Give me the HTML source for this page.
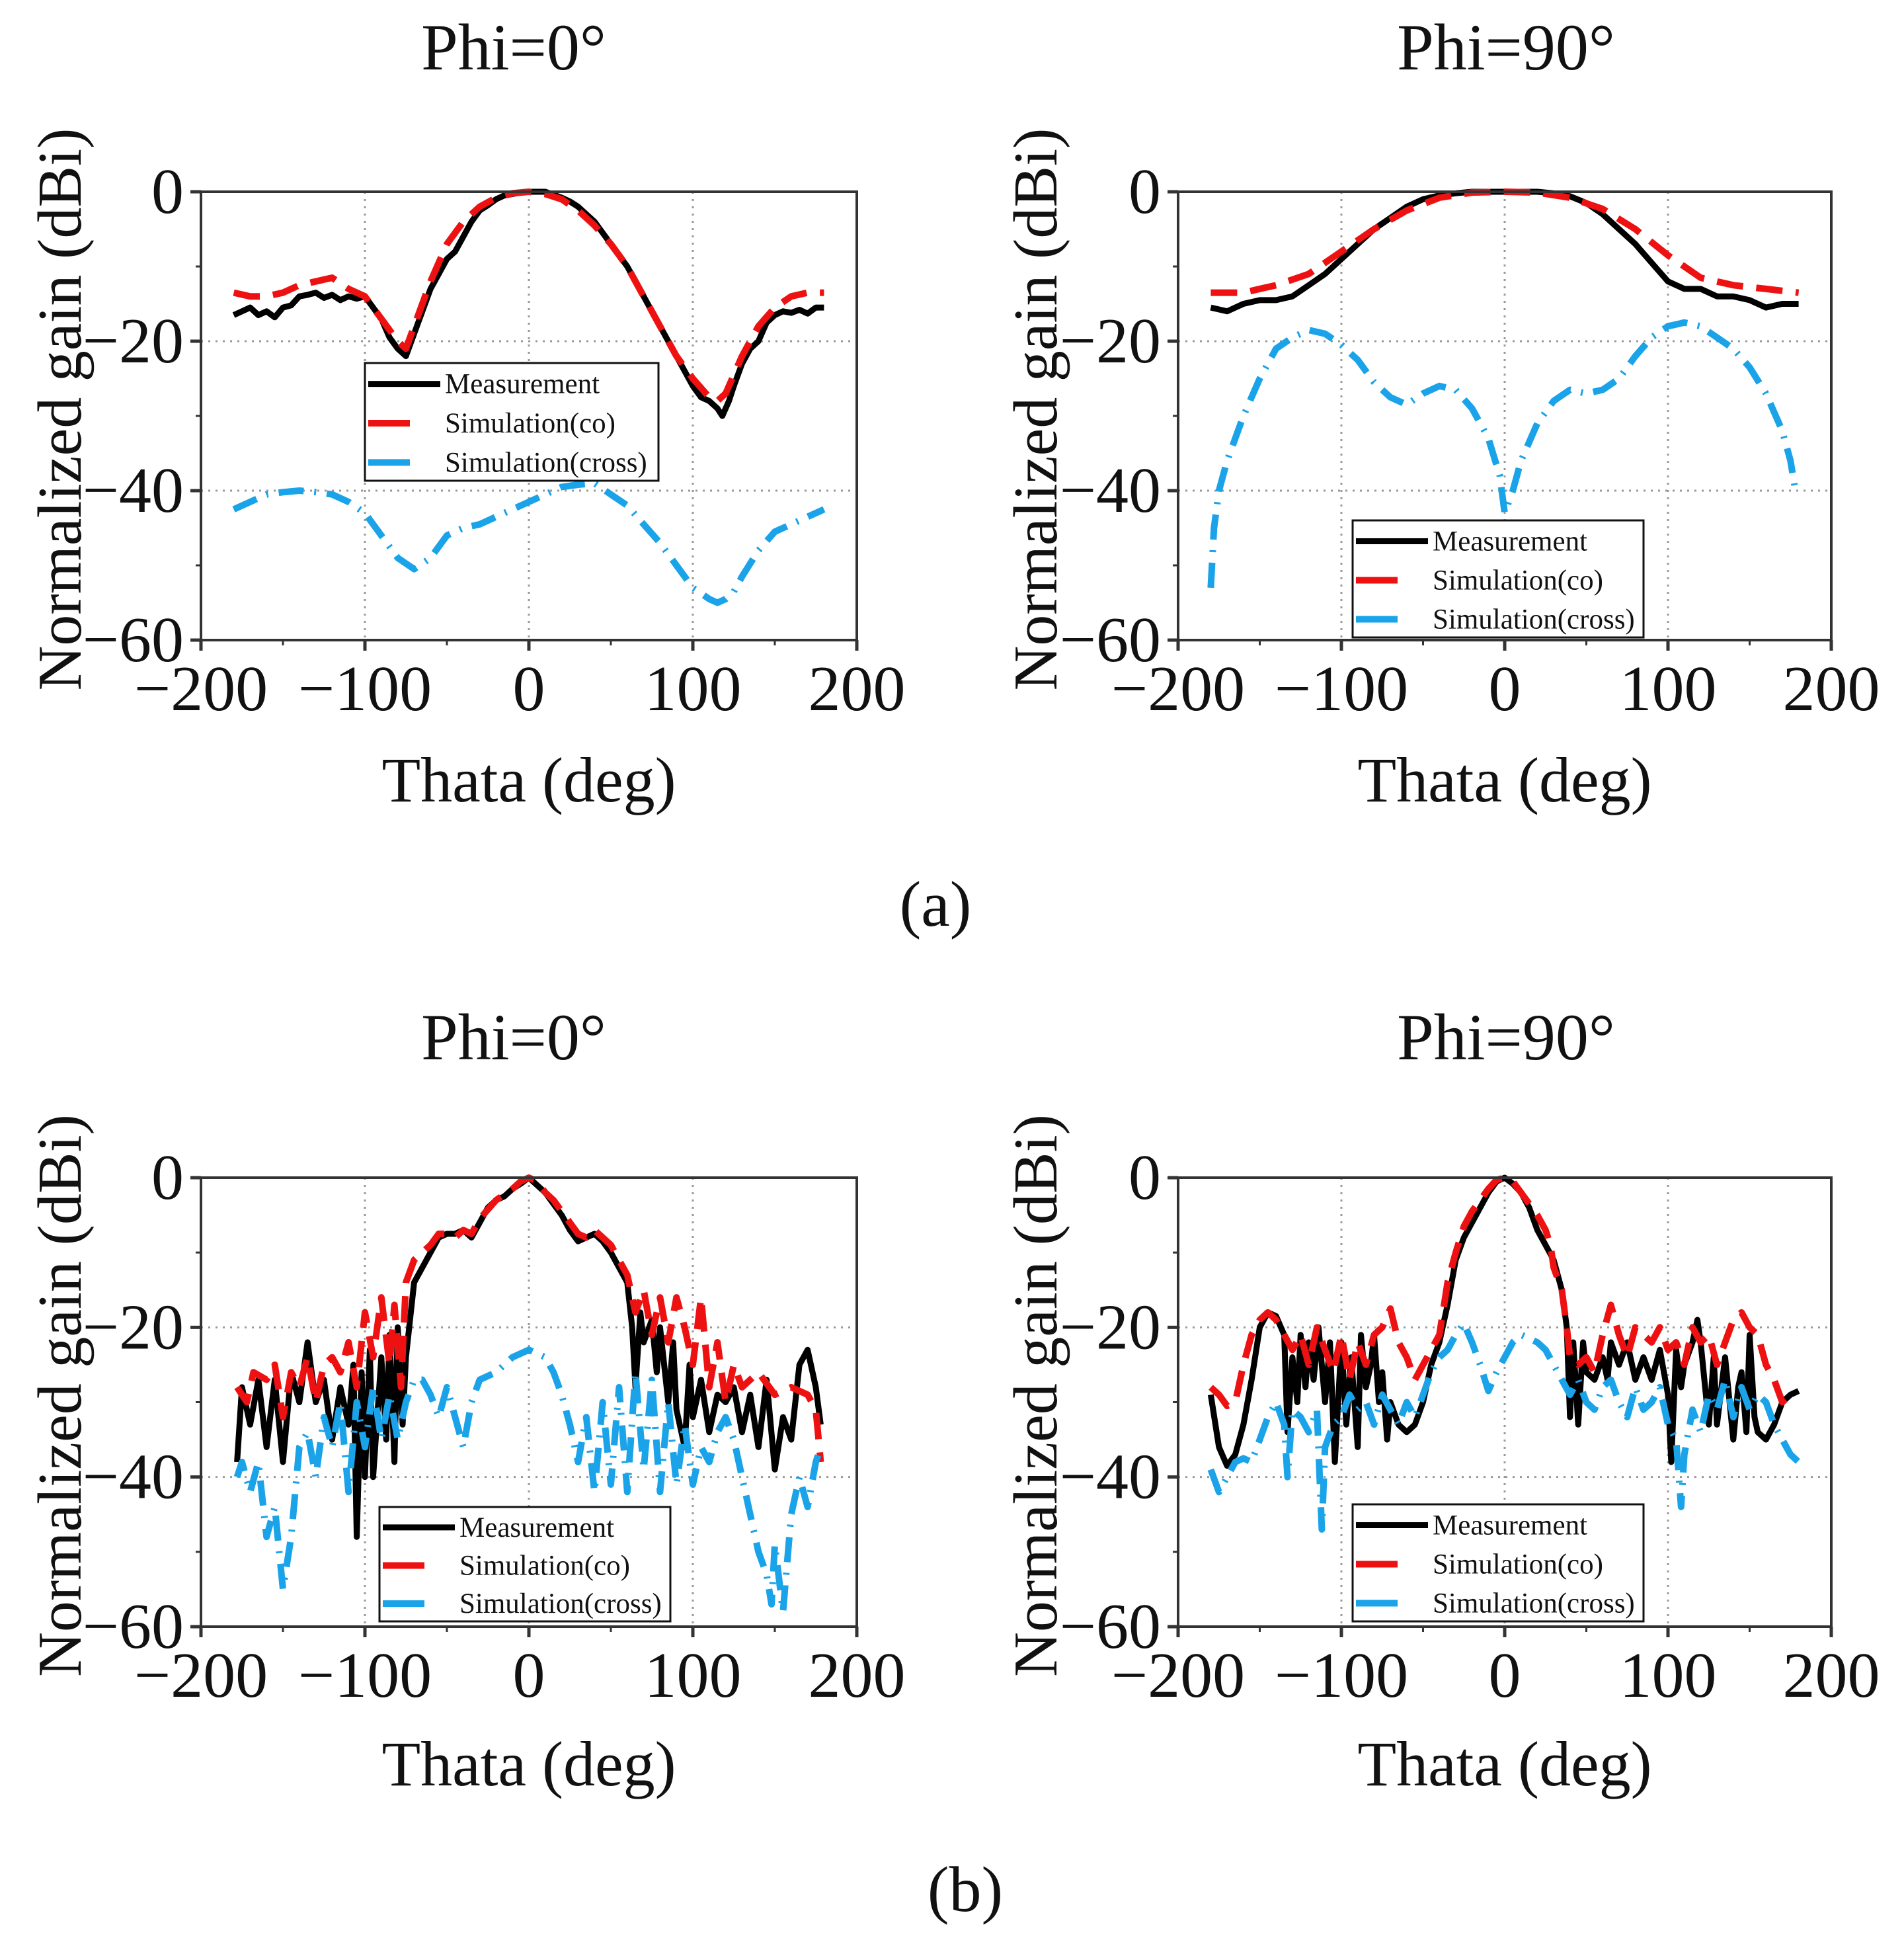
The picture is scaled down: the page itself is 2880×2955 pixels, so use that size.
<!DOCTYPE html>
<html><head><meta charset="utf-8"><style>
html,body{margin:0;padding:0;background:#fff;}
svg{display:block;}
text{font-family:"Liberation Serif","Times New Roman",serif;fill:#111;}
</style></head><body>
<svg id="fig" width="2880" height="2955" viewBox="0 0 2880 2955" xmlns="http://www.w3.org/2000/svg"></svg>
<script>
// ---------- data ----------
const xTicks=[-200,-100,0,100,200];
const yTicks=[0,-20,-40,-60];
const seriesNames=["Measurement","Simulation(co)","Simulation(cross)"];
const titles=["Phi=0°","Phi=90°","Phi=0°","Phi=90°"];

const a0MeasT=[-180,-175,-170,-165,-160,-155,-150,-145,-140,-135,-130,-125,-120,-115,-110,-105,-100,-95,-90,-85,-80,-75,-70,-65,-60,-55,-50,-45,-40,-35,-30,-25,-20,-15,-10,-5,0,5,10,15,20,25,30,35,40,45,50,55,60,65,70,75,80,85,90,95,100,105,110,115,118,122,125,130,135,140,145,150,155,160,165,170,175,180];
const a0MeasV=[-16.5,-16,-15.5,-16.5,-16,-16.8,-15.5,-15.2,-14,-13.8,-13.5,-14.2,-13.8,-14.5,-14,-14.3,-14,-15.5,-17,-19.5,-21,-22,-19,-16,-13,-11,-9,-8,-6,-4,-2.5,-1.8,-1,-0.5,-0.3,-0.1,0,0,0,-0.4,-0.8,-1.3,-2,-3,-4,-5.5,-7,-8.5,-10,-12,-14,-16,-18,-20,-22,-24,-26,-27.5,-28,-29,-30,-28,-26,-23,-21,-20,-17.5,-16.5,-16,-16.2,-15.8,-16.3,-15.5,-15.5];
const a0CoT=[-180,-170,-160,-150,-140,-130,-120,-110,-100,-90,-80,-75,-70,-60,-50,-40,-30,-20,-10,0,10,20,30,40,50,60,70,80,90,100,110,115,120,130,140,150,160,170,180];
const a0CoV=[-13.5,-14,-14,-13.5,-12.5,-12,-11.5,-13,-14,-17,-20,-21,-18,-12,-7,-4,-2,-0.8,-0.2,0,-0.3,-1,-2.5,-4.5,-7,-10,-14,-18,-22,-25,-27.5,-28,-27,-22,-18,-15.5,-14,-13.5,-13.5];
const a0CrT=[-180,-170,-160,-150,-140,-130,-120,-110,-100,-90,-80,-70,-60,-50,-40,-30,-20,-10,0,10,20,30,40,50,60,70,80,90,100,110,115,120,125,130,140,150,160,170,180];
const a0CrV=[-42.5,-41.5,-40.5,-40.2,-40,-40.2,-40.5,-41.5,-43,-46,-49,-50.5,-49,-46,-45,-44.5,-43.5,-42.5,-41.5,-40.5,-39.5,-39.2,-39,-40.5,-42,-44.5,-47,-50,-53,-54.5,-55,-54.5,-53.5,-51.5,-48,-45.5,-44.5,-43.5,-42.5];

const a90MeasT=[-180,-170,-160,-150,-140,-130,-120,-110,-100,-90,-80,-70,-60,-50,-40,-30,-20,-10,0,10,20,30,40,50,60,70,80,90,100,110,120,130,140,150,160,170,180];
const a90MeasV=[-15.5,-16,-15,-14.5,-14.5,-14,-12.5,-11,-9,-7,-5,-3.5,-2,-1,-0.5,-0.2,0,0,0,0,0,-0.2,-0.6,-1.5,-3,-5,-7,-9.5,-12,-13,-13,-14,-14,-14.5,-15.5,-15,-15];
const a90CoT=[-180,-160,-150,-140,-120,-100,-80,-60,-40,-20,0,20,40,60,80,100,110,120,140,160,180];
const a90CoV=[-13.5,-13.5,-13,-12.5,-11,-8,-5,-2.5,-0.8,-0.1,0,-0.1,-0.8,-2.3,-5,-8.5,-10,-11.5,-12.5,-13,-13.5];
const a90CrT=[-180,-178,-175,-170,-160,-150,-140,-130,-120,-110,-100,-90,-80,-70,-60,-50,-40,-30,-20,-10,-3,0,5,10,20,30,40,50,60,70,80,90,100,110,120,130,140,150,160,170,175,178];
const a90CrV=[-53,-45,-40,-36,-30,-25,-21,-19.5,-18.5,-19,-20.5,-22.5,-25.5,-27.5,-28.5,-27,-26,-26.5,-29,-33,-38,-43,-40,-36,-31,-28,-26.5,-27,-26.5,-25,-22,-19.5,-18,-17.5,-18,-19.5,-21,-23.5,-27,-32,-36,-40];

const b0MeasT=[-178,-175,-170,-165,-160,-155,-150,-145,-140,-135,-130,-125,-120,-115,-110,-107,-105,-102,-100,-97,-95,-90,-87,-85,-82,-80,-77,-75,-70,-65,-60,-55,-50,-45,-40,-35,-30,-25,-20,-15,-10,-5,0,5,10,15,20,25,30,35,40,45,50,55,60,63,65,68,70,75,78,80,85,88,90,95,98,100,105,110,115,120,125,130,135,140,145,150,155,160,165,170,175,178];
const b0MeasV=[-38,-28,-33,-27,-36,-27,-38,-26,-30,-22,-30,-27,-35,-28,-33,-25,-48,-26,-40,-23,-40,-24,-35,-21,-38,-20,-33,-24,-14,-12,-10,-8,-7.5,-7.5,-7,-8,-6,-4,-3,-2.5,-1.5,-0.8,0,-1,-2,-3.5,-5,-7,-8.5,-8,-7.5,-8.5,-10,-12,-14,-20,-28,-18,-22,-19,-26,-20,-30,-22,-31,-36,-25,-32,-27,-34,-29,-30,-28,-34,-29,-36,-27,-39,-32,-35,-25,-23,-28,-33];
const b0CoT=[-178,-172,-168,-160,-155,-150,-145,-140,-135,-130,-125,-120,-115,-110,-105,-100,-95,-90,-85,-82,-78,-75,-70,-60,-55,-50,-45,-40,-35,-30,-20,-10,-5,0,5,10,15,20,25,30,35,40,45,50,55,60,65,70,75,80,85,90,95,100,105,110,115,120,125,130,140,150,160,170,175,178];
const b0CoV=[-28,-30,-26,-27,-25,-32,-26,-28,-24,-30,-25,-24,-26,-22,-28,-18,-24,-16,-25,-17,-28,-14,-11,-9,-7.5,-7.5,-8,-7,-7.5,-5.5,-3,-1.5,-0.5,0,-0.5,-2,-3,-4.5,-6,-7.5,-8,-7,-8,-9,-11,-13,-18,-15,-21,-16,-22,-16,-20,-25,-16,-28,-22,-30,-25,-28,-26,-29,-28,-29,-31,-38];
const b0CrT=[-178,-175,-170,-165,-160,-155,-150,-145,-140,-135,-130,-125,-120,-115,-110,-105,-100,-95,-90,-85,-80,-75,-70,-65,-60,-55,-50,-45,-40,-35,-30,-20,-10,0,10,15,20,25,30,35,40,45,50,55,60,65,70,75,80,85,90,95,100,105,110,115,120,125,130,135,140,145,148,150,155,160,165,170,175,178];
const b0CrV=[-40,-38,-42,-38,-48,-44,-55,-48,-36,-34,-40,-32,-36,-30,-42,-30,-36,-28,-35,-29,-35,-30,-27,-27,-29,-32,-28,-32,-36,-30,-27,-26,-24,-23,-24,-26,-29,-33,-38,-32,-42,-30,-41,-28,-42,-26,-39,-27,-42,-30,-41,-33,-41,-36,-38,-34,-32,-35,-40,-45,-50,-53,-57,-49,-58,-45,-40,-44,-38,-36];

const b90MeasT=[-180,-175,-170,-165,-160,-155,-150,-145,-140,-135,-133,-130,-127,-125,-122,-120,-117,-114,-110,-107,-104,-100,-97,-94,-90,-88,-85,-82,-80,-77,-75,-72,-70,-65,-60,-55,-50,-45,-40,-38,-35,-30,-25,-20,-15,-10,-5,0,5,10,15,20,25,30,35,38,40,42,45,48,50,55,60,63,65,70,75,80,85,90,95,100,102,105,108,110,115,118,120,125,128,130,135,140,143,145,148,150,153,155,160,165,170,175,180];
const b90MeasV=[-29,-36,-38.5,-37,-33,-27,-20,-18,-18.5,-21,-34,-24,-30,-21,-28,-22,-27,-20,-30,-22,-38,-22,-33,-24,-36,-21,-28,-25,-21,-30,-26,-35,-30,-33,-34,-33,-30,-25,-22,-20,-17,-11,-8,-6,-4,-2,-0.5,0,-0.8,-2,-4,-7,-9,-11,-15,-20,-32,-22,-33,-22,-26,-27,-24,-27,-22,-25,-22,-27,-24,-27,-23,-29,-38,-23,-28,-25,-22,-19,-22,-33,-24,-33,-24,-35,-28,-26,-34,-21,-32,-34,-35,-33,-30,-29,-28.5];
const b90CoT=[-180,-175,-170,-165,-160,-155,-150,-145,-140,-135,-130,-125,-120,-115,-110,-105,-100,-95,-90,-85,-80,-75,-70,-65,-60,-55,-50,-45,-40,-35,-30,-25,-20,-10,-5,0,5,10,15,20,25,28,30,35,38,40,45,50,55,60,65,70,75,80,85,90,95,100,105,110,115,120,125,130,135,140,145,150,155,160,165,170,175];
const b90CoV=[-28,-29,-30.5,-30,-25,-21,-19,-18,-19,-21,-23,-21,-25,-20,-23,-26,-21,-27,-22,-25,-21,-20,-17.5,-22,-24,-27,-25,-23,-21,-14,-10,-6.5,-4.5,-1.5,-0.3,0,-0.5,-2,-3.5,-5,-7,-9,-12,-15,-20,-24,-25,-24,-26,-21,-17,-21,-24,-20,-21,-22,-20,-23,-22,-25,-20,-22,-21,-25,-22,-19,-18,-20,-21,-25,-27,-30,-29];
const b90CrT=[-180,-175,-170,-165,-160,-155,-150,-145,-140,-135,-133,-130,-125,-120,-115,-112,-110,-105,-100,-95,-90,-85,-80,-75,-70,-65,-60,-55,-50,-45,-40,-35,-30,-25,-20,-15,-10,-5,0,5,10,15,20,25,30,35,40,45,50,55,60,65,70,75,80,85,90,95,100,105,108,110,115,120,125,130,135,140,145,150,155,160,165,170,175,180];
const b90CrV=[-39,-42,-40,-38,-37.5,-38,-35,-32,-30,-33,-40,-31,-32,-34,-31,-47,-36,-33,-32,-29,-31,-30,-33,-29,-31,-33,-30,-32,-29,-26,-24,-23,-21,-19.5,-22,-25,-28.5,-26,-24,-22,-21,-21.5,-22,-23,-25,-27,-29,-27,-30,-31,-28,-27,-30,-32,-28,-31,-30,-28,-33,-35,-44,-37,-31,-34,-29,-31,-27,-32,-28,-31,-29,-30,-33,-35,-37,-38];

// ---------- drawing ----------
const NS="http://www.w3.org/2000/svg";
const svg=document.getElementById('fig');
function mk(tag,attrs,parent){const e=document.createElementNS(NS,tag);for(const k in attrs)e.setAttribute(k,attrs[k]);(parent||svg).appendChild(e);return e;}

const panels=[
 {L:304,R:1296,T:290,B:968,title:titles[0],tx:777,ty:105,yl:90,xlY:1212,leg:[552,549,996,727],series:[[a0MeasT,a0MeasV],[a0CoT,a0CoV],[a0CrT,a0CrV]],id:'a-phi0'},
 {L:1782,R:2770,T:290,B:968,title:titles[1],tx:2278,ty:105,yl:1566,xlY:1212,leg:[2046,787,2486,964],series:[[a90MeasT,a90MeasV],[a90CoT,a90CoV],[a90CrT,a90CrV]],id:'a-phi90'},
 {L:304,R:1296,T:1781,B:2460,title:titles[2],tx:777,ty:1602,yl:90,xlY:2700,leg:[574,2279,1014,2452],series:[[b0MeasT,b0MeasV],[b0CoT,b0CoV],[b0CrT,b0CrV]],id:'b-phi0'},
 {L:1782,R:2770,T:1781,B:2460,title:titles[3],tx:2278,ty:1602,yl:1566,xlY:2700,leg:[2046,2275,2486,2452],series:[[b90MeasT,b90MeasV],[b90CoT,b90CoV],[b90CrT,b90CrV]],id:'b-phi90'}
];
const styles=[
 {stroke:'#000',w:9,dash:''},
 {stroke:'#ee1111',w:10,dash:'40 20'},
 {stroke:'#1aa3e8',w:10,dash:'38 16 3 16'}
];

panels.forEach(p=>{
  const g=mk('g',{});
  
  
  const sx=v=>p.L+(v+200)/400*(p.R-p.L);
  const sy=v=>p.T+(-v)/60*(p.B-p.T);
  const t=mk('text',{x:p.tx,y:p.ty,'font-size':100,'text-anchor':'middle'},g);t.textContent=p.title;
  
  
  [-100,0,100].forEach(v=>{const l=mk('line',{x1:sx(v),x2:sx(v),y1:p.T,y2:p.B,stroke:'#999','stroke-width':3,'stroke-dasharray':'3 8'},g);
    
    });
  [-20,-40].forEach(v=>{const l=mk('line',{x1:p.L,x2:p.R,y1:sy(v),y2:sy(v),stroke:'#999','stroke-width':3,'stroke-dasharray':'3 8'},g);
    
    });
  p.series.forEach((s,i)=>{
    const d=s[0].map((x,j)=>(j?'L':'M')+sx(x).toFixed(1)+','+sy(s[1][j]).toFixed(1)).join('');
    const path=mk('path',{d:d,fill:'none',stroke:styles[i].stroke,'stroke-width':styles[i].w,'stroke-linejoin':'round','stroke-dasharray':styles[i].dash},g);
    
    
  });
  const fr=mk('rect',{x:p.L,y:p.T,width:p.R-p.L,height:p.B-p.T,fill:'none',stroke:'#333','stroke-width':4},g);
  
  
  xTicks.forEach(v=>{mk('line',{x1:sx(v),x2:sx(v),y1:p.B,y2:p.B+16,stroke:'#333','stroke-width':5},g);
    const tl=mk('text',{x:sx(v),y:p.B+106,'font-size':98,'text-anchor':'middle'},g);tl.textContent=(v<0?'\u2212':'')+Math.abs(v);
    
    });
  [-150,-50,50,150].forEach(v=>mk('line',{x1:sx(v),x2:sx(v),y1:p.B,y2:p.B+8,stroke:'#333','stroke-width':3},g));
  yTicks.forEach(v=>{mk('line',{x1:p.L-16,x2:p.L,y1:sy(v),y2:sy(v),stroke:'#333','stroke-width':5},g);
    const tl=mk('text',{x:p.L-26,y:sy(v)+32,'font-size':98,'text-anchor':'end'},g);tl.textContent=(v<0?'\u2212':'')+Math.abs(v);
    
    });
  [-10,-30,-50].forEach(v=>mk('line',{x1:p.L-8,x2:p.L,y1:sy(v),y2:sy(v),stroke:'#333','stroke-width':3},g));
  const xl=mk('text',{x:(p.L+p.R)/2,y:p.xlY,'font-size':96,'text-anchor':'middle'},g);xl.textContent='Thata (deg)';
  
  
  const cy=(p.T+p.B)/2-10;
  const yl=mk('text',{x:0,y:0,'font-size':94,'text-anchor':'middle',transform:`translate(${p.yl+32},${cy}) rotate(-90)`},g);yl.textContent='Normalized gain (dBi)';
  
  
  const [x1,y1,x2,y2]=p.leg;
  const lg=mk('g',{},g);
  
  
  mk('rect',{x:x1,y:y1,width:x2-x1,height:y2-y1,fill:'#fff',stroke:'#111','stroke-width':3},lg);
  const rh=(y2-y1)/3;
  seriesNames.forEach((n,i)=>{
    const ry=y1+rh*(i+0.5)+2;
    mk('line',{x1:x1+5,x2:x1+(i==0?114:68),y1:ry,y2:ry,stroke:styles[i].stroke,'stroke-width':i==0?9:10},lg);
    const tt=mk('text',{x:x1+121,y:ry+14,'font-size':43},lg);tt.textContent=n;
    
    
  });
});
const la=mk('text',{x:1415,y:1400,'font-size':98,'text-anchor':'middle'});la.textContent='(a)';


const lb=mk('text',{x:1460,y:2890,'font-size':98,'text-anchor':'middle'});lb.textContent='(b)';


</script>
</body></html>
